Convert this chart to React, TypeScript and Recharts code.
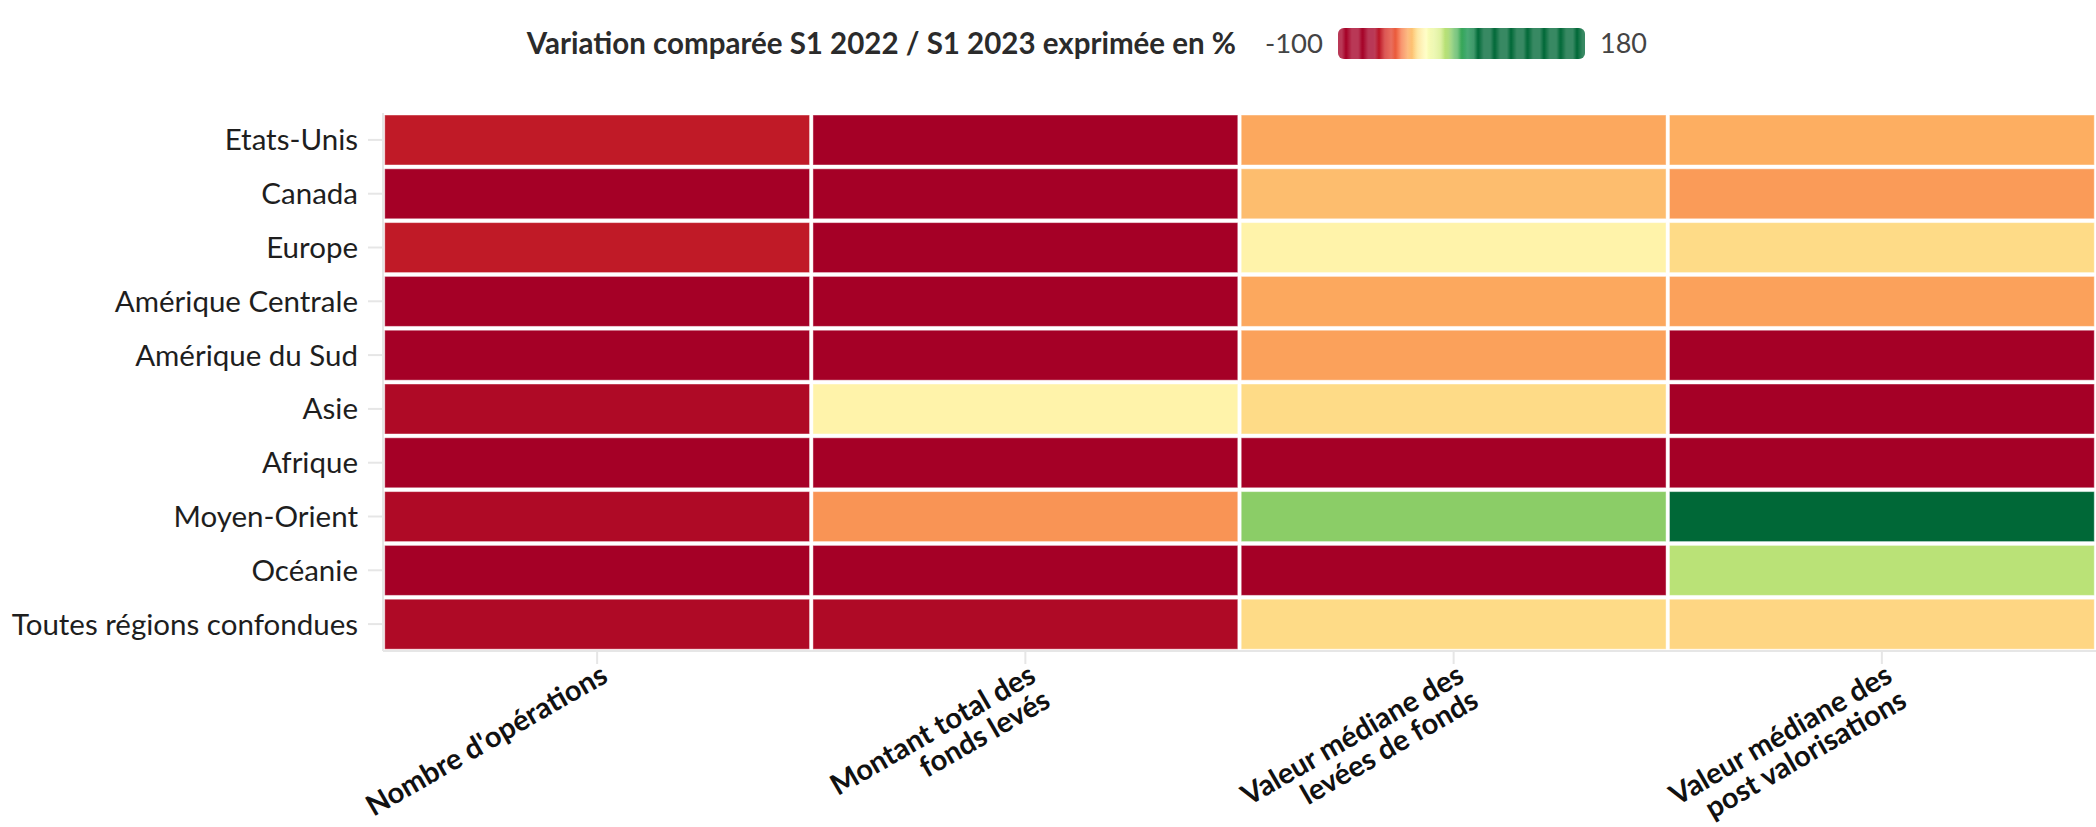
import { BarChart, Bar, XAxis, YAxis, Cell } from 'recharts'

const regions = [
  'Etats-Unis', 'Canada', 'Europe', 'Amérique Centrale', 'Amérique du Sud',
  'Asie', 'Afrique', 'Moyen-Orient', 'Océanie', 'Toutes régions confondues',
]

// column labels, one array per line of the rotated tick label
const metricLines = [
  ["Nombre d'opérations"],
  ['Montant total des', 'fonds levés'],
  ['Valeur médiane des', 'levées de fonds'],
  ['Valeur médiane des', 'post valorisations'],
]

// variation S1 2022 / S1 2023 in %, one array per column, rows in region order
const nbOperations = [-52, -68, -52, -75, -70, -57, -80, -57, -72, -57]
const montantTotal = [-70, -78, -72, -80, -82, -4, -88, -24, -75, -57]
const medianeLevees = [-21, -17, -4, -21, -22, -11, -65, 28, -70, -11]
const medianePostVal = [-20, -23, -11, -22, -68, -70, -85, 175, 21, -12]

const columns = [nbOperations, montantTotal, medianeLevees, medianePostVal]

const LEGEND_MIN = -100
const LEGEND_MAX = 180

// RdYlGn colour scale, stops in % variation
const scaleStops = [-100, -60, -45, -30, -20, -10, 0, 15, 25, 32, 45, 60, 180]
const scaleColors = [
  '#a50026', '#a50026', '#d73027', '#f46d43', '#fdae61', '#fee08b', '#ffffbf',
  '#d9ef8b', '#a6d96a', '#66bd63', '#1a9850', '#006837', '#006837',
]

const FONT = 'Lato, "Source Sans Pro", sans-serif'
const W = 2096
const H = 827

function hexToRgb(h: string) {
  const n = parseInt(h.slice(1), 16)
  return [(n >> 16) & 255, (n >> 8) & 255, n & 255]
}

function colorFor(v: number) {
  if (v <= scaleStops[0]) return scaleColors[0]
  for (let i = 1; i < scaleStops.length; i++) {
    if (v <= scaleStops[i]) {
      const t = (v - scaleStops[i - 1]) / (scaleStops[i] - scaleStops[i - 1])
      const a = hexToRgb(scaleColors[i - 1])
      const b = hexToRgb(scaleColors[i])
      const c = a.map((x, k) => Math.round(x + (b[k] - x) * t))
      return `rgb(${c[0]},${c[1]},${c[2]})`
    }
  }
  return scaleColors[scaleColors.length - 1]
}

// every cell has unit width, the colour carries the value
const rows = regions.map((region) => ({ region, c0: 1, c1: 1, c2: 1, c3: 1 }))

function CellShape(props: any) {
  const { x, y, width, height, fill } = props
  return (
    <rect
      x={x + 1.7} y={y + 2} width={width - 3.4} height={height - 4}
      fill={fill} stroke="#fff" strokeOpacity={0.45} strokeWidth={1}
    />
  )
}

function XTick(props: any) {
  const { x, y, payload } = props
  const lines = metricLines[Math.floor(payload.value)]
  return (
    <g transform={`translate(${x + 2},${y - 2})`}>
      <text
        transform="rotate(-30)" textAnchor="end" fill="#111"
        fontFamily={FONT} fontWeight={700} fontSize={29}
      >
        {lines.map((l, i) => (
          <tspan key={i} x={0} dy={i === 0 ? '0.71em' : 29}>{l}</tspan>
        ))}
      </text>
    </g>
  )
}

function ColorLegend() {
  const bw = 247
  const bh = 31
  return (
    <>
      <div style={{
        position: 'absolute', left: 0, top: 26, width: 1236, textAlign: 'right',
        fontFamily: FONT, fontWeight: 700, fontSize: 29.5, lineHeight: '34px', color: '#2b2b2b',
      }}>
        Variation comparée S1 2022 / S1 2023 exprimée en %
      </div>
      <div style={{
        position: 'absolute', left: 0, top: 26, width: 1323, textAlign: 'right',
        fontFamily: FONT, fontSize: 27.5, lineHeight: '34px', color: '#444',
      }}>
        {LEGEND_MIN}
      </div>
      <svg style={{ position: 'absolute', left: 1338, top: 28 }} width={bw} height={bh}>
        <defs>
          <linearGradient id="scale" x1="0" x2="1" y1="0" y2="0">
            {scaleStops.map((v, i) => (
              <stop key={i} offset={(v - LEGEND_MIN) / (LEGEND_MAX - LEGEND_MIN)} stopColor={scaleColors[i]} />
            ))}
          </linearGradient>
          <linearGradient id="stripe" x1="0" x2="1" y1="0" y2="0">
            <stop offset="0" stopColor="#fff" stopOpacity={0} />
            <stop offset="0.35" stopColor="#fff" stopOpacity={0.22} />
            <stop offset="0.75" stopColor="#fff" stopOpacity={0.22} />
            <stop offset="1" stopColor="#fff" stopOpacity={0} />
          </linearGradient>
          <pattern id="stripes" width={16.5} height={bh} patternUnits="userSpaceOnUse" x={8}>
            <rect width={16.5} height={bh} fill="url(#stripe)" />
          </pattern>
          <clipPath id="round">
            <rect width={bw} height={bh} rx={6} />
          </clipPath>
        </defs>
        <g clipPath="url(#round)">
          <rect width={bw} height={bh} fill="url(#scale)" />
          <rect width={bw} height={bh} fill="url(#stripes)" />
        </g>
      </svg>
      <div style={{
        position: 'absolute', left: 1600, top: 26,
        fontFamily: FONT, fontSize: 27, lineHeight: '34px', color: '#444',
      }}>
        {LEGEND_MAX}
      </div>
    </>
  )
}

export default function App() {
  return (
    <div style={{ position: 'absolute', left: 0, top: 0, width: W, height: H, background: '#fff', overflow: 'hidden' }}>
      <ColorLegend />
      <BarChart
        width={W} height={H} data={rows} layout="vertical"
        margin={{ top: 113, right: 0, bottom: 0, left: 0 }}
        barCategoryGap={0} barGap={0}
      >
        <XAxis
          type="number" domain={[0, 4]} ticks={[0.5, 1.5, 2.5, 3.5]} height={176}
          axisLine={{ stroke: '#e6e6e6', strokeWidth: 2 }}
          tickLine={{ stroke: '#e6e6e6', strokeWidth: 2 }} tickSize={13} tickMargin={1}
          tick={<XTick />} interval={0}
        />
        <YAxis
          type="category" dataKey="region" width={383}
          axisLine={{ stroke: '#e6e6e6', strokeWidth: 2 }}
          tickLine={{ stroke: '#e6e6e6', strokeWidth: 2 }} tickSize={15} tickMargin={10}
          tick={{ fill: '#1e1e1e', fontSize: 29.5, fontFamily: FONT }} interval={0}
        />
        {columns.map((col, ci) => (
          <Bar key={ci} dataKey={`c${ci}`} stackId="heat" shape={<CellShape />} isAnimationActive={false}>
            {col.map((v, ri) => <Cell key={ri} fill={colorFor(v)} />)}
          </Bar>
        ))}
      </BarChart>
    </div>
  )
}
